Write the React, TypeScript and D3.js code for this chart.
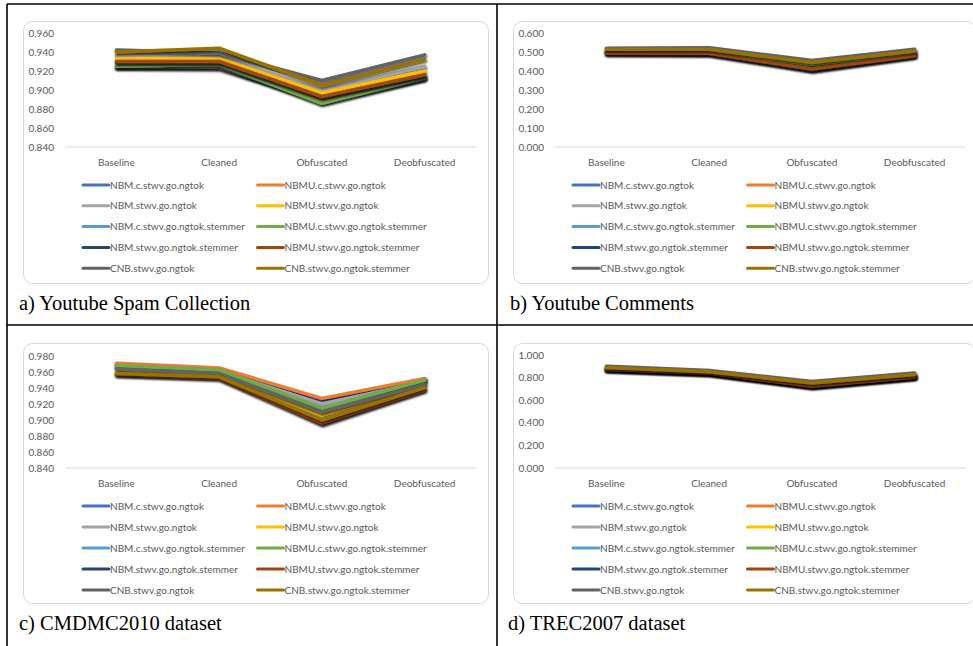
import React from "react";
import * as d3 from "d3";

const categories = ["Baseline", "Cleaned", "Obfuscated", "Deobfuscated"];

const seriesNames = [
  "NBM.c.stwv.go.ngtok",
  "NBMU.c.stwv.go.ngtok",
  "NBM.stwv.go.ngtok",
  "NBMU.stwv.go.ngtok",
  "NBM.c.stwv.go.ngtok.stemmer",
  "NBMU.c.stwv.go.ngtok.stemmer",
  "NBM.stwv.go.ngtok.stemmer",
  "NBMU.stwv.go.ngtok.stemmer",
  "CNB.stwv.go.ngtok",
  "CNB.stwv.go.ngtok.stemmer",
];

const seriesColors = [
  "#4472C4", "#ED7D31", "#A5A5A5", "#FFC000", "#5B9BD5",
  "#70AD47", "#264478", "#9E480E", "#636363", "#997300",
];

// a) Youtube Spam Collection
const spamValues = [
  [0.924, 0.923, 0.889, 0.912],
  [0.924, 0.924, 0.890, 0.913],
  [0.936, 0.935, 0.900, 0.925],
  [0.933, 0.933, 0.897, 0.920],
  [0.925, 0.926, 0.886, 0.912],
  [0.925, 0.927, 0.886, 0.913],
  [0.929, 0.929, 0.892, 0.915],
  [0.930, 0.930, 0.893, 0.916],
  [0.942, 0.939, 0.910, 0.937],
  [0.940, 0.944, 0.905, 0.932],
];
const spamTicks = [0.84, 0.86, 0.88, 0.9, 0.92, 0.94, 0.96];

// b) Youtube Comments
const commentsValues = [
  [0.495, 0.492, 0.405, 0.480],
  [0.500, 0.498, 0.410, 0.485],
  [0.510, 0.508, 0.430, 0.495],
  [0.505, 0.503, 0.425, 0.492],
  [0.500, 0.498, 0.430, 0.494],
  [0.505, 0.505, 0.435, 0.497],
  [0.492, 0.490, 0.405, 0.478],
  [0.495, 0.493, 0.410, 0.480],
  [0.520, 0.522, 0.455, 0.515],
  [0.515, 0.515, 0.445, 0.505],
];
const commentsTicks = [0, 0.1, 0.2, 0.3, 0.4, 0.5, 0.6];

// c) CMDMC2010 dataset
const cmdmcValues = [
  [0.969, 0.963, 0.925, 0.951],
  [0.971, 0.965, 0.927, 0.952],
  [0.966, 0.961, 0.920, 0.948],
  [0.960, 0.956, 0.906, 0.945],
  [0.967, 0.962, 0.914, 0.949],
  [0.968, 0.9625, 0.9146, 0.950],
  [0.957, 0.953, 0.895, 0.938],
  [0.957, 0.952, 0.896, 0.9375],
  [0.9638, 0.958, 0.910, 0.9446],
  [0.958, 0.954, 0.900, 0.9404],
];
const cmdmcTicks = [0.84, 0.86, 0.88, 0.9, 0.92, 0.94, 0.96, 0.98];

// d) TREC2007 dataset
const trecValues = [
  [0.875, 0.840, 0.725, 0.805],
  [0.878, 0.845, 0.730, 0.810],
  [0.885, 0.850, 0.740, 0.818],
  [0.880, 0.848, 0.735, 0.815],
  [0.876, 0.842, 0.726, 0.808],
  [0.878, 0.845, 0.730, 0.812],
  [0.872, 0.838, 0.722, 0.803],
  [0.874, 0.840, 0.725, 0.806],
  [0.900, 0.862, 0.765, 0.840],
  [0.890, 0.852, 0.752, 0.828],
];
const trecTicks = [0, 0.2, 0.4, 0.6, 0.8, 1.0];

const captions = [
  "a) Youtube Spam Collection",
  "b) Youtube Comments",
  "c) CMDMC2010 dataset",
  "d) TREC2007 dataset",
];

const FONT = "Lato, 'Open Sans', sans-serif";
const TXT = "#595959";

type PanelProps = {
  x: number; y: number; w: number; h: number;
  values: number[][]; ticks: number[];
  plotTop: number; plotBottom: number;
  legendTop: number; legendStep: number;
  caption: string; capX: number; capY: number;
  id: string;
};

function Panel(p: PanelProps) {
  const xScale = d3.scaleBand<string>().domain(categories).range([42, 453]);
  const yScale = d3
    .scaleLinear()
    .domain([p.ticks[0], p.ticks[p.ticks.length - 1]])
    .range([p.plotBottom, p.plotTop]);
  const line = d3
    .line<number>()
    .x((_, i) => (xScale(categories[i]) as number) + xScale.bandwidth() / 2)
    .y((d) => yScale(d));

  return (
    <g>
      <g transform={`translate(${p.x},${p.y})`}>
        <rect x={0.5} y={0.5} width={p.w} height={p.h} rx={9} fill="#fff" stroke="#d9d9d9" strokeWidth={1} />
        {p.ticks.map((t) => (
          <text key={t} x={31} y={yScale(t)} dy="0.35em" textAnchor="end" fontFamily={FONT} fontSize={10} fill={TXT}>
            {t.toFixed(3)}
          </text>
        ))}
        <line x1={42} x2={453} y1={p.plotBottom} y2={p.plotBottom} stroke="#d9d9d9" strokeWidth={1} />
        {categories.map((c) => (
          <text key={c} x={(xScale(c) as number) + xScale.bandwidth() / 2} y={p.plotBottom + 15} dy="0.35em" textAnchor="middle" fontFamily={FONT} fontSize={10} fill={TXT}>
            {c}
          </text>
        ))}
        {p.values.map((vals, i) => (
          <path key={i} d={line(vals) || ""} fill="none" stroke={seriesColors[i]} strokeWidth={3.5} strokeLinejoin="round" strokeLinecap="round" filter={`url(#shadow-${p.id})`} />
        ))}
        {seriesNames.map((n, i) => {
          const col = i % 2;
          const row = Math.floor(i / 2);
          const lx = col === 0 ? 60 : 234.5;
          const ly = p.legendTop + row * p.legendStep;
          return (
            <g key={n}>
              <line x1={lx} x2={lx + 26} y1={ly} y2={ly} stroke={seriesColors[i]} strokeWidth={3} strokeLinecap="round" />
              <text x={lx + 27} y={ly} dy="0.35em" fontFamily={FONT} fontSize={10} fill={TXT}>
                {n}
              </text>
            </g>
          );
        })}
      </g>
      <text x={p.capX} y={p.capY} fontFamily="'Liberation Serif', 'Times New Roman', serif" fontSize={20.5} fill="#000">
        {p.caption}
      </text>
    </g>
  );
}

export default function App() {
  const ids = ["a", "b", "c", "d"];
  return (
    <svg width={973} height={646} style={{ position: "absolute", left: 0, top: 0, background: "#fff" }}>
      <defs>
        {ids.map((id) => (
          <filter key={id} id={`shadow-${id}`} x="-10%" y="-30%" width="120%" height="160%">
            <feDropShadow dx={0.8} dy={1.6} stdDeviation={1.3} floodColor="#000" floodOpacity={0.75} />
          </filter>
        ))}
      </defs>
      <rect x={0} y={0} width={973} height={646} fill="#fff" />
      <Panel id="a" x={23} y={21} w={465} h={262} values={spamValues} ticks={spamTicks} plotTop={33 - 21} plotBottom={147 - 21} legendTop={164} legendStep={20.8} caption={captions[0]} capX={19} capY={310} />
      <Panel id="b" x={513} y={21} w={462} h={262} values={commentsValues} ticks={commentsTicks} plotTop={33 - 21} plotBottom={147 - 21} legendTop={164} legendStep={20.8} caption={captions[1]} capX={510} capY={310} />
      <Panel id="c" x={23} y={343} w={465} h={260} values={cmdmcValues} ticks={cmdmcTicks} plotTop={356 - 343} plotBottom={468 - 343} legendTop={163} legendStep={21} caption={captions[2]} capX={19} capY={630} />
      <Panel id="d" x={513} y={343} w={462} h={260} values={trecValues} ticks={trecTicks} plotTop={355 - 343} plotBottom={468 - 343} legendTop={163} legendStep={21} caption={captions[3]} capX={508} capY={630} />
      <g stroke="#000" strokeWidth={1.6}>
        <line x1={7} x2={973} y1={4} y2={4} />
        <line x1={7} x2={973} y1={325} y2={325} />
        <line x1={7} x2={7} y1={4} y2={646} />
        <line x1={497} x2={497} y1={4} y2={646} />
      </g>
    </svg>
  );
}
